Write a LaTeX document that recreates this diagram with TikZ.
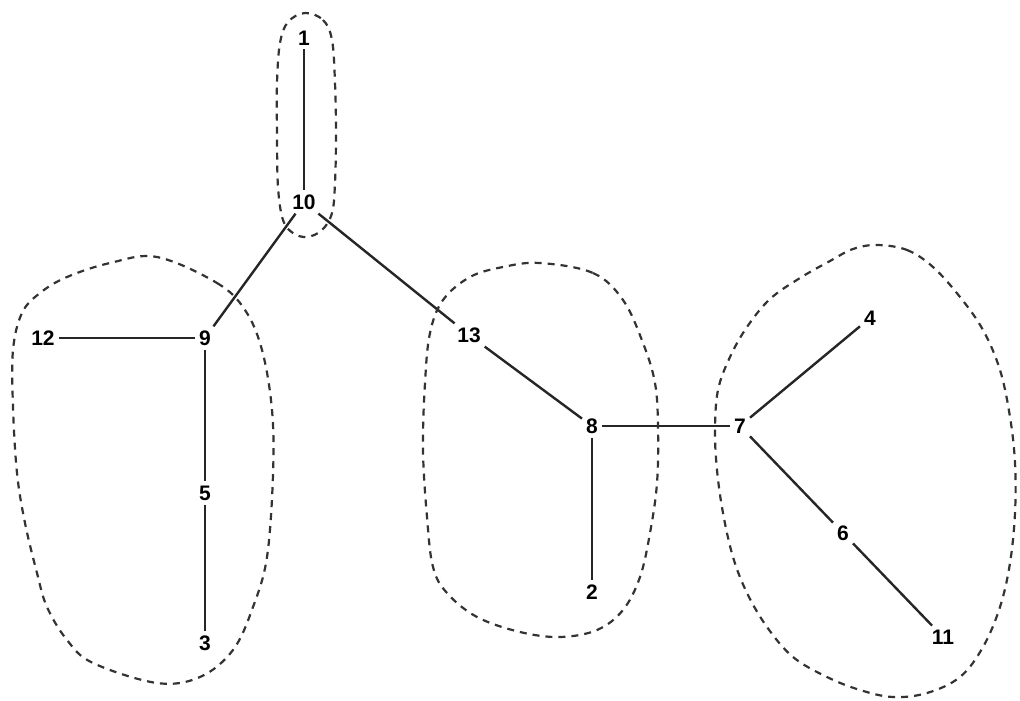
\documentclass[tikz,border=0pt]{standalone}
\usepackage{fontspec}
\setsansfont{Liberation Sans}
\begin{document}
\begin{tikzpicture}[x=1pt,y=-1pt,
  lbl/.style={font=\sffamily\bfseries\fontsize{21}{24}\selectfont, inner sep=4pt},
  edge/.style={line width=2.4pt, black!85},
  blob/.style={line width=2.2pt, black!80, dash pattern=on 7pt off 6pt}]
\useasboundingbox (0,0) rectangle (1020,701);
\node[lbl] (n1) at (304,38) {1};
\node[lbl] (n10) at (304,202) {10};
\node[lbl] (n9) at (205,338) {9};
\node[lbl] (n12) at (43,338) {12};
\node[lbl] (n5) at (205,493) {5};
\node[lbl] (n3) at (205,643) {3};
\node[lbl] (n13) at (469,335) {13};
\node[lbl] (n8) at (592,426) {8};
\node[lbl] (n2) at (592,592) {2};
\node[lbl] (n7) at (740,426) {7};
\node[lbl] (n4) at (870,318) {4};
\node[lbl] (n6) at (843,533) {6};
\node[lbl] (n11) at (943,637) {11};
\draw[edge] (n1) -- (n10);
\draw[edge] (n10) -- (n9);
\draw[edge] (n10) -- (n13);
\draw[edge] (n12) -- (n9);
\draw[edge] (n9) -- (n5);
\draw[edge] (n5) -- (n3);
\draw[edge] (n13) -- (n8);
\draw[edge] (n8) -- (n7);
\draw[edge] (n8) -- (n2);
\draw[edge] (n7) -- (n4);
\draw[edge] (n7) -- (n6);
\draw[edge] (n6) -- (n11);
% clusters
\draw[blob] plot[smooth cycle, tension=0.6] coordinates {(305,13) (323,20) (332,40) (335,83) (336,133) (335,183) (332,213) (322,230) (307,237) (293,233) (283,220) (278,187) (277,133) (277,83) (280,43) (288,22)};
\draw[blob] plot[smooth cycle, tension=0.6] coordinates {(157,257) (217,283) (245,310) (262,350) (272,410) (273,475) (267,557) (253,607) (233,650) (200,677) (157,683) (93,663) (67,640) (47,607) (37,573) (25,523) (17,473) (13,407) (13,350) (22,313) (40,293) (67,277) (110,263)};
\draw[blob] plot[smooth cycle, tension=0.6] coordinates {(540,263) (593,273) (623,300) (643,343) (655,383) (658,427) (657,483) (650,533) (640,577) (623,610) (597,630) (560,637) (520,632) (477,617) (447,593) (433,567) (427,517) (423,450) (425,383) (430,333) (443,300) (470,277) (503,267)};
\draw[blob] plot[smooth cycle, tension=0.6] coordinates {(877,245) (907,250) (933,267) (960,297) (983,330) (1000,370) (1010,417) (1015,463) (1015,513) (1010,563) (1000,607) (983,647) (960,677) (927,693) (893,697) (860,690) (827,677) (793,657) (767,627) (747,593) (733,557) (723,513) (717,470) (715,430) (718,390) (730,357) (747,327) (770,299) (800,278) (830,261) (853,249)};
\end{tikzpicture}
\end{document}
